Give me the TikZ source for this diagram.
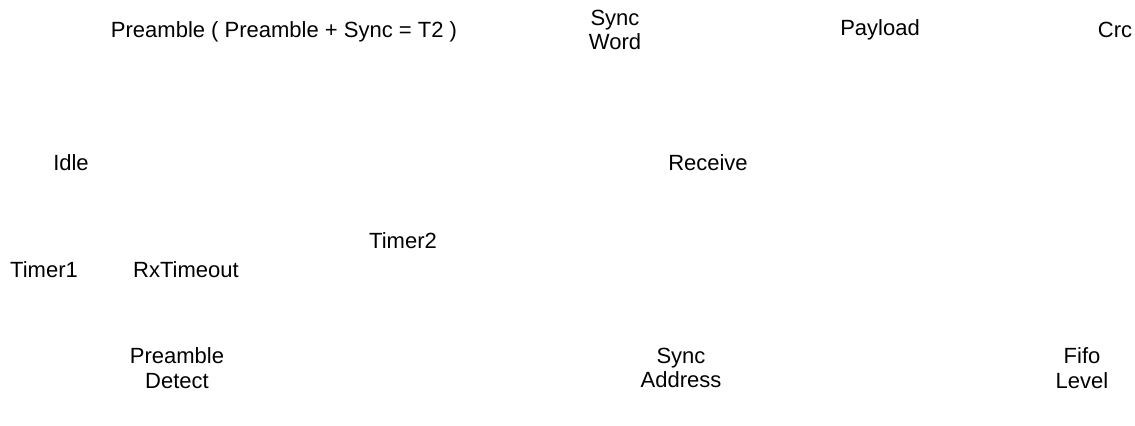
\documentclass[tikz,border=0pt]{standalone}
\usepackage{fontspec}
\setmainfont{Liberation Sans}
\usepackage{tikz}
\usetikzlibrary{positioning}

\begin{document}
\begin{tikzpicture}[x=0.75pt, y=-0.75pt,
  lbl/.style={inner sep=0pt, align=center, font=\fontsize{16.5}{18.5}\selectfont}]
\useasboundingbox (0,0) rectangle (1135,425);
% top row: packet fields
\node[lbl] (preamble) at (284,32) {Preamble ( Preamble + Sync = T2 )};
\node[lbl] (syncword) at (615,30) {Sync\\Word};
\node[lbl] (payload) at (880,30) {Payload};
\node[lbl] (crc) at (1115,30) {Crc};
% states
\node[lbl] (idle) at (71,163) {Idle};
\node[lbl] (receive) at (708,163) {Receive};
% timers
\node[lbl] (timer2) at (403,241) {Timer2};
\node[lbl] (timer1) at (44,270) {Timer1};
\node[lbl] (rxtimeout) at (186,270) {RxTimeout};
% bottom row: interrupts
\node[lbl] (predetect) at (177,368) {Preamble\\Detect};
\node[lbl] (syncaddr) at (681,368) {Sync\\Address};
\node[lbl] (fifolevel) at (1082,368) {Fifo\\Level};
\end{tikzpicture}
\end{document}
